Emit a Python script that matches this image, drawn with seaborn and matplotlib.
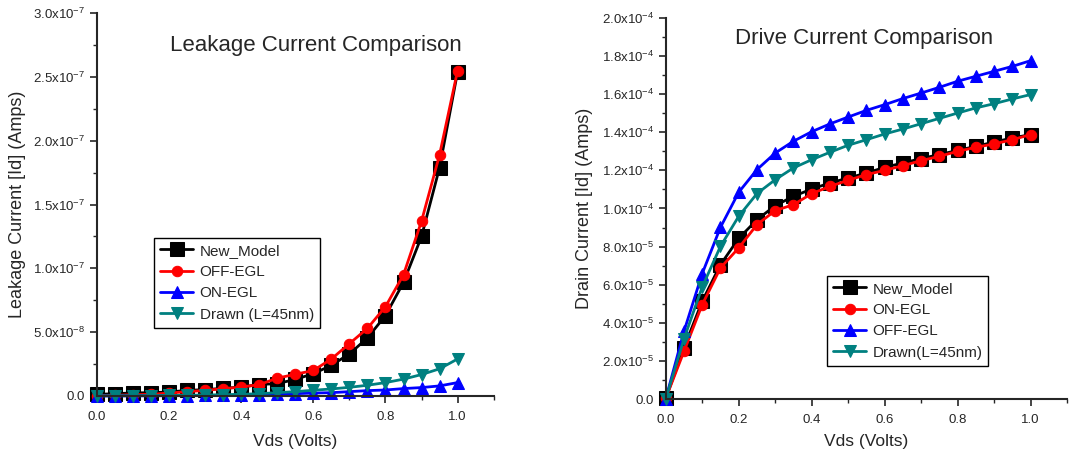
import numpy as np
import pandas as pd
import matplotlib
matplotlib.use('Agg')
import matplotlib.pyplot as plt
import seaborn as sns
from matplotlib.ticker import FuncFormatter, MultipleLocator

# Data
vds = [round(0.05 * i, 2) for i in range(21)]

# Leakage current (Amps)
leak_new_model = [1.3e-9, 1.8e-9, 2.4e-9, 2.6e-9, 3.1e-9, 4.4e-9, 5.0e-9, 6.0e-9, 7.0e-9, 9.0e-9,
                  9.7e-9, 1.3e-8, 1.75e-8, 2.4e-8, 3.3e-8, 4.55e-8, 6.3e-8, 8.9e-8, 1.25e-7, 1.79e-7, 2.54e-7]
leak_off_egl = [0.3e-9, 0.5e-9, 1.0e-9, 1.3e-9, 2.3e-9, 3.4e-9, 4.4e-9, 5.7e-9, 7.0e-9, 8.9e-9,
                1.4e-8, 1.7e-8, 2.0e-8, 2.9e-8, 4.1e-8, 5.3e-8, 7.0e-8, 9.5e-8, 1.37e-7, 1.89e-7, 2.55e-7]
leak_on_egl = [0.0, 0.05e-9, 0.1e-9, 0.15e-9, 0.2e-9, 0.3e-9, 0.4e-9, 0.5e-9, 0.7e-9, 1.0e-9,
               1.5e-9, 1.8e-9, 2.3e-9, 2.6e-9, 3.4e-9, 4.2e-9, 4.7e-9, 5.8e-9, 6.6e-9, 7.9e-9, 1.05e-8]
leak_drawn = [0.1e-9, 0.15e-9, 0.2e-9, 0.3e-9, 0.4e-9, 0.5e-9, 0.8e-9, 1.0e-9, 1.3e-9, 1.8e-9,
              2.6e-9, 3.4e-9, 4.5e-9, 5.5e-9, 6.8e-9, 8.4e-9, 1.05e-8, 1.32e-8, 1.68e-8, 2.13e-8, 2.9e-8]

# Drive current (Amps)
drive_new_model = [0.3e-6, 26.8e-6, 51.3e-6, 70.5e-6, 84.3e-6, 94.1e-6, 101.5e-6, 106.4e-6, 110.2e-6, 113.4e-6,
                   116.0e-6, 118.6e-6, 121.6e-6, 123.9e-6, 126.2e-6, 128.3e-6, 130.5e-6, 132.6e-6, 134.9e-6, 137.0e-6, 138.8e-6]
drive_on_egl = [0.3e-6, 25.0e-6, 49.5e-6, 68.8e-6, 79.3e-6, 91.5e-6, 98.9e-6, 102.0e-6, 107.8e-6, 111.6e-6,
                114.8e-6, 117.8e-6, 120.0e-6, 122.5e-6, 125.1e-6, 127.4e-6, 130.0e-6, 132.1e-6, 133.9e-6, 136.1e-6, 138.8e-6]
drive_off_egl = [0.0, 35.5e-6, 65.8e-6, 90.1e-6, 108.5e-6, 120.4e-6, 129.1e-6, 135.3e-6, 140.3e-6, 144.4e-6,
                 148.0e-6, 151.5e-6, 154.5e-6, 157.7e-6, 160.6e-6, 163.6e-6, 166.8e-6, 169.4e-6, 172.0e-6, 174.6e-6, 177.6e-6]
drive_drawn = [0.0, 31.5e-6, 58.8e-6, 80.1e-6, 95.9e-6, 107.8e-6, 115.1e-6, 121.3e-6, 125.6e-6, 129.5e-6,
               133.2e-6, 136.1e-6, 139.1e-6, 141.7e-6, 144.5e-6, 147.3e-6, 150.1e-6, 152.8e-6, 155.0e-6, 157.5e-6, 159.8e-6]

sns.set_style('ticks')
fam = 'Liberation Sans'
plt.rcParams['font.family'] = [fam, 'DejaVu Sans']
plt.rcParams['mathtext.fontset'] = 'custom'
plt.rcParams['mathtext.rm'] = fam
plt.rcParams['mathtext.it'] = fam
plt.rcParams['mathtext.bf'] = fam


def sci_fmt(v, pos):
    if abs(v) < 1e-15:
        return '0.0'
    e = int(np.floor(np.log10(abs(v)) + 1e-9))
    m = v / 10 ** e
    return f'{m:.1f}x10$^{{{e}}}$'


styles = {
    'sq': dict(marker='s', markersize=10),
    'ci': dict(marker='o', markersize=7.5),
    'up': dict(marker='^', markersize=8),
    'dn': dict(marker='v', markersize=8),
}

fig = plt.figure(figsize=(10.72, 4.58), dpi=100)
ax1 = fig.add_axes([0.0905, 0.1354, 0.370, 0.836])
ax2 = fig.add_axes([0.621, 0.1288, 0.3745, 0.832])

left_series = [
    ('New_Model', leak_new_model, 'black', 'sq'),
    ('OFF-EGL', leak_off_egl, 'red', 'ci'),
    ('ON-EGL', leak_on_egl, 'blue', 'up'),
    ('Drawn (L=45nm)', leak_drawn, '#008080', 'dn'),
]
right_series = [
    ('New_Model', drive_new_model, 'black', 'sq'),
    ('ON-EGL', drive_on_egl, 'red', 'ci'),
    ('OFF-EGL', drive_off_egl, 'blue', 'up'),
    ('Drawn(L=45nm)', drive_drawn, '#008080', 'dn'),
]

for ax, series in [(ax1, left_series), (ax2, right_series)]:
    for label, vals, col, st in series:
        sns.lineplot(x=vds, y=vals, ax=ax, color=col, label=label, linewidth=2,
                     markeredgecolor=col, clip_on=False, **styles[st])

ax1.set_xlim(0, 1.1)
ax1.set_ylim(0, 3.0e-7)
ax1.yaxis.set_major_locator(MultipleLocator(5e-8))
ax1.yaxis.set_minor_locator(MultipleLocator(2.5e-8))
ax1.set_ylabel('Leakage Current [Id] (Amps)', fontsize=13)
ax1.text(0.552, 0.915, 'Leakage Current Comparison', transform=ax1.transAxes,
         ha='center', va='center', fontsize=16)
ax1.yaxis.set_label_coords(-0.179, 0.5)
ax1.xaxis.set_label_coords(0.5, -0.099)

ax2.set_xlim(0, 1.1)
ax2.set_ylim(0, 2.0e-4)
ax2.yaxis.set_major_locator(MultipleLocator(2e-5))
ax2.yaxis.set_minor_locator(MultipleLocator(1e-5))
ax2.set_ylabel('Drain Current [Id] (Amps)', fontsize=13)
ax2.text(0.495, 0.945, 'Drive Current Comparison', transform=ax2.transAxes,
         ha='center', va='center', fontsize=16)
ax2.yaxis.set_label_coords(-0.182, 0.5)
ax2.xaxis.set_label_coords(0.5, -0.092)

for ax in (ax1, ax2):
    ax.xaxis.set_major_locator(MultipleLocator(0.2))
    ax.xaxis.set_minor_locator(MultipleLocator(0.1))
    ax.xaxis.set_major_formatter(FuncFormatter(lambda v, p: f'{v:.1f}'))
    ax.yaxis.set_major_formatter(FuncFormatter(sci_fmt))
    ax.set_xlabel('Vds (Volts)', fontsize=12.5)
    ax.tick_params(which='major', direction='out', length=5, width=1.2, labelsize=9.5)
    ax.tick_params(axis='x', which='major', pad=6)
    ax.tick_params(which='minor', direction='out', length=3, width=1.0)
    for s in ('top', 'right'):
        ax.spines[s].set_visible(False)
    for s in ('left', 'bottom'):
        ax.spines[s].set_linewidth(1.5)
    ax.set_facecolor('white')

leg_kw = dict(loc='upper left', bbox_transform=fig.transFigure, borderaxespad=0,
              fontsize=11, handlelength=2.2, handletextpad=0.4, labelspacing=0.48,
              borderpad=0.38, fancybox=False, edgecolor='black', framealpha=1)
leg1 = ax1.legend(bbox_to_anchor=(154 / 1072, 1 - 238 / 458), **leg_kw)
leg2 = ax2.legend(bbox_to_anchor=(827 / 1072, 1 - 276 / 458), **leg_kw)
for leg in (leg1, leg2):
    leg.get_frame().set_linewidth(1.0)

fig.savefig('out.png', dpi=100, facecolor='white')
